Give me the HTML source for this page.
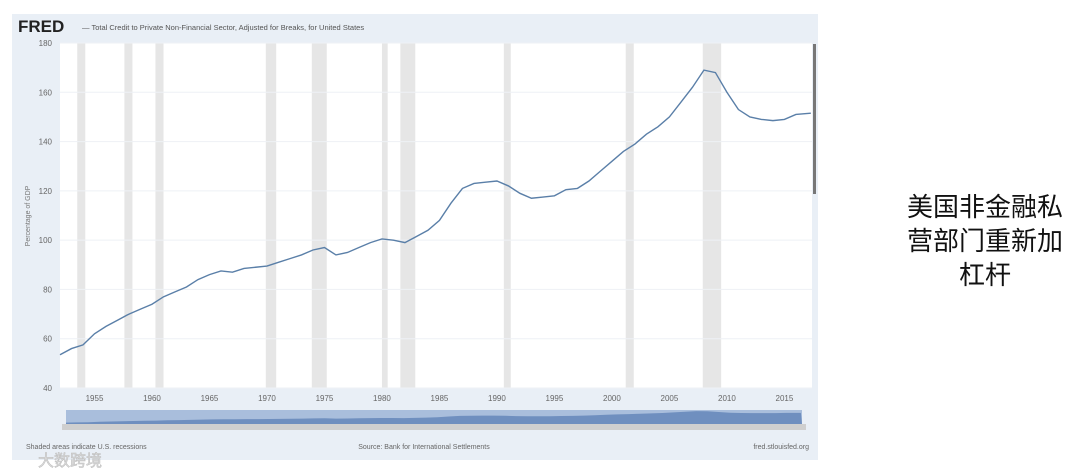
<!DOCTYPE html>
<html><head><meta charset="utf-8">
<style>
body{margin:0;width:1080px;height:474px;background:#fff;overflow:hidden;font-family:"Liberation Sans","Noto Sans CJK SC",sans-serif;position:relative}
#frame{position:absolute;left:12px;top:14px;width:806px;height:446px;background:#e9eff6}
#side{position:absolute;left:890px;top:190px;width:190px;text-align:center;font-size:26px;line-height:34px;color:#111;font-family:"Liberation Sans","Noto Sans CJK SC",sans-serif}
</style></head><body>
<div id="frame"></div>
<svg id="chart" width="1080" height="474" style="position:absolute;left:0;top:0"></svg>
<div id="side">美国非金融私<br>营部门重新加<br>杠杆</div>
<script>
const years=[1952,1953,1954,1955,1956,1957,1958,1959,1960,1961,1962,1963,1964,1965,1966,1967,1968,1969,1970,1971,1972,1973,1974,1975,1976,1977,1978,1979,1980,1981,1982,1983,1984,1985,1986,1987,1988,1989,1990,1991,1992,1993,1994,1995,1996,1997,1998,1999,2000,2001,2002,2003,2004,2005,2006,2007,2008,2009,2010,2011,2012,2013,2014,2015,2016,2017.3];
const credit=[53.5,56,57.5,62,65,67.5,70,72,74,77,79,81,84,86,87.5,87,88.5,89,89.5,91,92.5,94,96,97,94,95,97,99,100.5,100,99,101.5,104,108,115,121,123,123.5,124,122,119,117,117.5,118,120.5,121,124,128,132,136,139,143,146,150,156,162,169,168,160,153,150,149,148.5,149,151,151.5];
const recessions=[[1953.5,1954.2],[1957.6,1958.3],[1960.3,1961.0],[1969.9,1970.8],[1973.9,1975.2],[1980.0,1980.5],[1981.6,1982.9],[1990.6,1991.2],[2001.2,2001.9],[2007.9,2009.5]];
const yTicks=[40,60,80,100,120,140,160,180];
const xTicks=[1955,1960,1965,1970,1975,1980,1985,1990,1995,2000,2005,2010,2015];
const X0=60,X1=812,Y0=388,Y1=43,xMin=1952,xMax=2017.4;
const xs=v=>X0+(v-xMin)/(xMax-xMin)*(X1-X0);
const ys=v=>Y0-(v-40)/(180-40)*(Y0-Y1);
const svg=document.getElementById('chart');const NS='http://www.w3.org/2000/svg';
function mk(t,a,p){const e=document.createElementNS(NS,t);for(const k in a)e.setAttribute(k,a[k]);(p||svg).appendChild(e);return e;}
let e;
e=mk('rect',{x:X0,y:Y1,width:X1-X0,height:Y0-Y1,fill:'#fff'});


recessions.forEach(r=>{e=mk('rect',{x:xs(r[0]),y:Y1,width:xs(r[1])-xs(r[0]),height:Y0-Y1,fill:'#e6e6e6'});

});
yTicks.forEach(t=>{e=mk('line',{x1:X0,x2:X1,y1:ys(t),y2:ys(t),stroke:'#eef1f5','stroke-width':1});


e=mk('text',{x:52,y:ys(t)+3,'text-anchor':'end','font-size':8,fill:'#666'});e.textContent=t;

});
xTicks.forEach(t=>{e=mk('text',{x:xs(t),y:401,'text-anchor':'middle','font-size':8,fill:'#666'});e.textContent=t;

});
e=mk('text',{x:0,y:0,transform:'translate(30,216) rotate(-90)','text-anchor':'middle','font-size':7,fill:'#777'});e.textContent='Percentage of GDP';


e=mk('polyline',{points:years.map((y,i)=>xs(y)+','+ys(credit[i])).join(' '),fill:'none',stroke:'#5a7fa8','stroke-width':1.4});


e=mk('rect',{x:813,y:44,width:3,height:150,fill:'#777'});


e=mk('text',{x:18,y:32,'font-size':17,'font-weight':'bold',fill:'#222'});e.textContent='FRED';


e=mk('text',{x:82,y:30,'font-size':7.5,fill:'#555'});e.textContent='— Total Credit to Private Non-Financial Sector, Adjusted for Breaks, for United States';


e=mk('rect',{x:66,y:410,width:736,height:14,fill:'#a9bedc'});


e=mk('path',{d:'M66,423 '+years.map((y,i)=>'L'+(66+(y-xMin)/(xMax-xMin)*736)+','+(424-(credit[i]-40)/140*14)).join(' ')+' L802,424 L66,424Z',fill:'#6f8fbf'});


e=mk('rect',{x:62,y:424,width:744,height:6,fill:'#cfcfcf'});


e=mk('text',{x:26,y:449,'font-size':7,fill:'#666'});e.textContent='Shaded areas indicate U.S. recessions';


e=mk('text',{x:424,y:449,'text-anchor':'middle','font-size':7,fill:'#666'});e.textContent='Source: Bank for International Settlements';


e=mk('text',{x:809,y:449,'text-anchor':'end','font-size':7,fill:'#666'});e.textContent='fred.stlouisfed.org';


e=mk('text',{x:38,y:466,'font-size':16,fill:'#ddd','stroke':'#bbb','stroke-width':0.5,'font-family':'"Liberation Sans","Noto Sans CJK SC",sans-serif'});e.textContent='大数跨境';


</script>
</body></html>
